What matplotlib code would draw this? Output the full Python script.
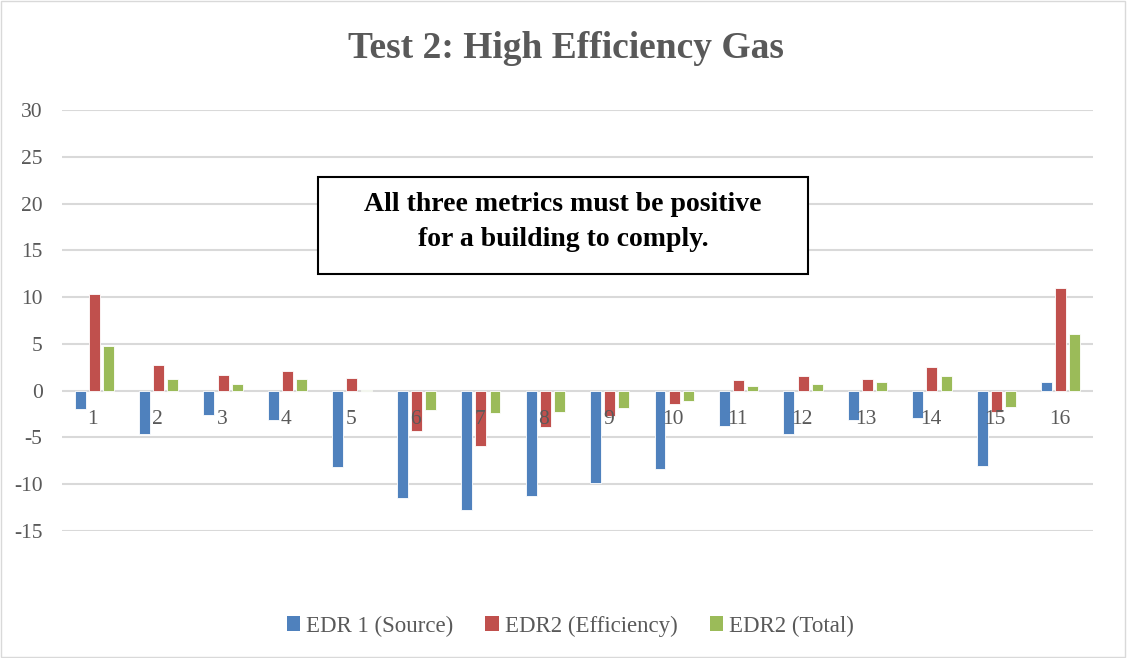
import numpy as np
import matplotlib.pyplot as plt
from matplotlib.patches import Patch, Rectangle

# Values
categories = [str(i) for i in range(1, 17)]
edr1_source = [-2.0, -4.6, -2.6, -3.1, -8.2, -11.5, -12.8, -11.3,
               -9.9, -8.4, -3.8, -4.6, -3.1, -2.9, -8.0, 0.95]
edr2_efficiency = [10.3, 2.7, 1.7, 2.1, 1.4, -4.3, -5.9, -3.9,
                   -2.7, -1.4, 1.1, 1.55, 1.3, 2.5, -2.3, 11.0]
edr2_total = [4.8, 1.25, 0.7, 1.25, 0.1, -2.1, -2.4, -2.3,
              -1.8, -1.1, 0.45, 0.7, 0.95, 1.55, -1.7, 6.1]
series_names = ['EDR 1 (Source)', 'EDR2 (Efficiency)', 'EDR2 (Total)']
colors = ['#4F81BD', '#C0504D', '#9BBB59']
yticks = [-15, -10, -5, 0, 5, 10, 15, 20, 25, 30]

plt.rcParams['font.family'] = ['Liberation Serif', 'DejaVu Serif']
gray = '#595959'

fig = plt.figure(figsize=(11.27, 6.58), dpi=100)
ax = fig.add_axes([62 / 1127, 1 - 531 / 658, (1093 - 62) / 1127, (531 - 110) / 658])

x = np.arange(1, len(categories) + 1)
width = 0.17
step = 0.22
for k, (vals, c) in enumerate(zip([edr1_source, edr2_efficiency, edr2_total], colors)):
    ax.bar(x + (k - 1) * step, vals, width, color=c, edgecolor='white',
           linewidth=0.6, zorder=3, label=series_names[k])

ax.set_xlim(0.5, 16.5)
ax.set_ylim(-15, 30)
ax.set_yticks(yticks)
ax.set_yticklabels([str(t) for t in yticks], fontsize=15.5, color=gray)
ax.yaxis.grid(True, color='#D9D9D9', linewidth=1.5, zorder=0)
ax.tick_params(axis='y', length=0, pad=14)
ax.set_xticks([])
for s in ax.spines.values():
    s.set_visible(False)

# category labels sit just under the zero line, drawn over the bars
for xi, lab in zip(x, categories):
    ax.text(xi - 0.02, -3.1, lab, ha='center', va='center', fontsize=15.5, color=gray, zorder=6)

fig.text(0.502, 1 - 49 / 658, 'Test 2: High Efficiency Gas', ha='center', va='center',
         fontsize=27, fontweight='bold', color=gray)

# annotation box
box = Rectangle((318 / 1127, 1 - 274 / 658), 490 / 1127, 97 / 658, transform=fig.transFigure,
                facecolor='white', edgecolor='black', linewidth=1.5, zorder=5)
fig.add_artist(box)
fig.text(563 / 1127, 1 - 222 / 658, 'All three metrics must be positive\nfor a building to comply.',
         ha='center', va='center', fontsize=20, fontweight='bold', color='black',
         linespacing=1.55, zorder=6)

handles = [Patch(facecolor=c, label=n) for c, n in zip(colors, series_names)]
leg = fig.legend(handles=handles, loc='center', bbox_to_anchor=(0.506, 1 - 626 / 658), ncol=3,
                 frameon=False, fontsize=16.5, handlelength=0.6, handleheight=0.6,
                 handletextpad=0.25, columnspacing=1.4)
for t in leg.get_texts():
    t.set_color(gray)

fig.add_artist(Rectangle((0.001, 0.001), 0.997, 0.997, transform=fig.transFigure,
                         fill=False, edgecolor='#D9D9D9', linewidth=1))

fig.savefig('out.png', dpi=100)
